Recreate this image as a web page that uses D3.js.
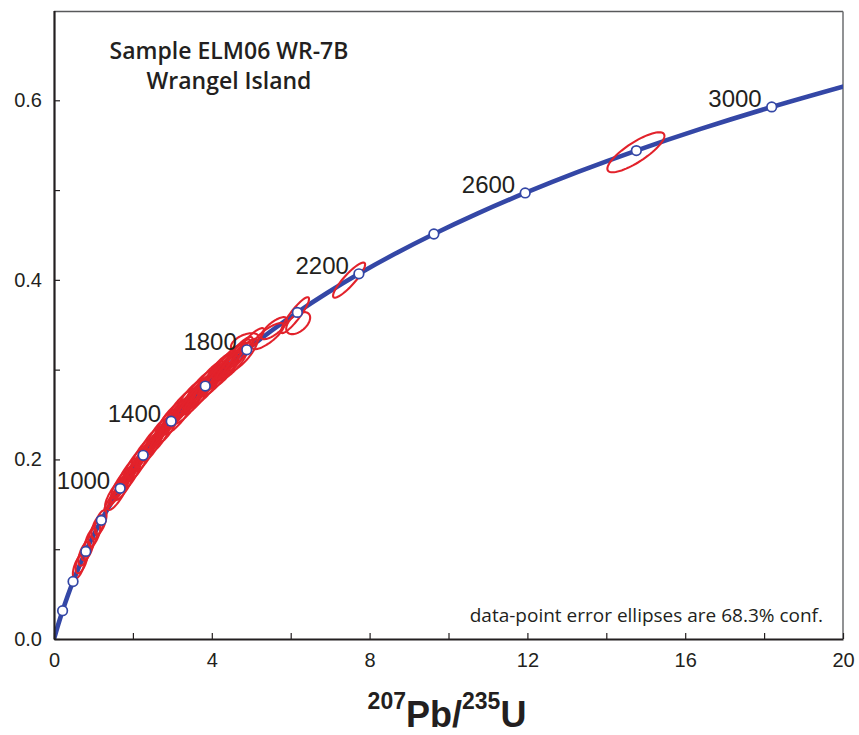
<!DOCTYPE html>
<html>
<head>
<meta charset="utf-8">
<script src="https://cdn.jsdelivr.net/npm/d3@7"></script>
<style>
  html, body { margin: 0; padding: 0; background: #fff; }
  svg { display: block; }
</style>
</head>
<body>
<svg id="chart" width="859" height="735"></svg>
<script>
// Concordia curve, tabulated every 100 Ma: age (Ma), 207Pb/235U, 206Pb/238U
const concAge = [0, 100, 200, 300, 400, 500, 600, 700, 800, 900, 1000, 1100, 1200, 1300, 1400, 1500,
                 1600, 1700, 1800, 1900, 2000, 2100, 2200, 2300, 2400, 2500, 2600, 2700, 2800, 2900, 3000, 3100];
const concX = [0, 0.1035, 0.2177, 0.3437, 0.4828, 0.6363, 0.8056, 0.9925, 1.1987, 1.4263, 1.6774, 1.9545,
               2.2603, 2.5977, 2.9701, 3.3810, 3.8345, 4.3347, 4.8869, 5.4962, 6.1685, 6.9105, 7.7292, 8.6326,
               9.6296, 10.7298, 11.9437, 13.2834, 14.7617, 16.3929, 18.1931, 20.1797];
const concY = [0, 0.01563, 0.03151, 0.04764, 0.06402, 0.08065, 0.09754, 0.11470, 0.13213, 0.14983, 0.16780,
               0.18606, 0.20460, 0.22343, 0.24256, 0.26199, 0.28172, 0.30175, 0.32211, 0.34277, 0.36377,
               0.38509, 0.40674, 0.42873, 0.45107, 0.47375, 0.49679, 0.52019, 0.54396, 0.56810, 0.59261, 0.61751];

// Age markers every 200 Ma; a subset carries labels
const markerAges = [200, 400, 600, 800, 1000, 1200, 1400, 1600, 1800, 2000, 2200, 2400, 2600, 2800, 3000];
const labelAges = [1000, 1400, 1800, 2200, 2600, 3000];

// Zircon analyses: 207Pb/235U, 206Pb/238U, 1-sigma absolute errors, error correlation
const ellX = [
  0.63, 0.70, 0.77, 0.85, 0.93, 1.02, 1.10, 1.18,
  1.55, 1.62, 1.70, 1.78, 1.86, 1.94, 2.03, 2.12, 2.21, 2.30, 2.40, 2.50, 2.60, 2.70, 2.80, 2.90,
  3.00, 3.12, 3.24, 3.36, 3.48, 3.60, 3.72, 3.84, 3.96, 4.08, 4.20, 4.32, 4.44, 4.56, 4.68, 4.80,
  1.90, 2.45, 3.10, 3.60, 4.15, 4.55,
  1.58, 1.74, 1.90, 2.06, 2.22, 2.38, 2.55, 2.72, 2.90,
  3.06, 3.22, 3.38, 3.54, 3.70, 3.86, 4.02, 4.18, 4.34, 4.50, 4.66,
  4.84, 5.02, 5.42, 5.58, 6.11, 6.19,
  7.48, 14.75];
const ellY = [
  0.0805, 0.0865, 0.0950, 0.1010, 0.1098, 0.1165, 0.1245, 0.1300,
  0.1630, 0.1605, 0.1735, 0.1712, 0.1845, 0.1815, 0.1950, 0.1925, 0.2060, 0.2035, 0.2170, 0.2148,
  0.2278, 0.2255, 0.2385, 0.2357,
  0.2485, 0.2460, 0.2605, 0.2575, 0.2712, 0.2680, 0.2815, 0.2785, 0.2915, 0.2885, 0.3010, 0.2980,
  0.3100, 0.3075, 0.3185, 0.3165,
  0.1830, 0.2155, 0.2500, 0.2720, 0.2960, 0.3110,
  0.1625, 0.1705, 0.1840, 0.1910, 0.2040, 0.2100, 0.2225, 0.2285, 0.2405,
  0.2455, 0.2560, 0.2605, 0.2705, 0.2745, 0.2843, 0.2880, 0.2972, 0.3005, 0.3095, 0.3125,
  0.3306, 0.3329, 0.3373, 0.3462, 0.3607, 0.3518,
  0.3997, 0.5421];
const ellSX = [
  0.10, 0.10, 0.10, 0.10, 0.10, 0.10, 0.10, 0.10,
  0.167, 0.167, 0.167, 0.167, 0.167, 0.167, 0.167, 0.167, 0.167, 0.167, 0.167, 0.167, 0.167, 0.167, 0.167, 0.167,
  0.234, 0.234, 0.234, 0.234, 0.234, 0.234, 0.234, 0.234, 0.234, 0.234, 0.234, 0.234, 0.234, 0.234, 0.234, 0.234,
  0.22, 0.26, 0.30, 0.32, 0.32, 0.28,
  0.20, 0.20, 0.20, 0.20, 0.20, 0.20, 0.20, 0.20, 0.20,
  0.26, 0.26, 0.26, 0.26, 0.26, 0.26, 0.26, 0.26, 0.26, 0.26, 0.26,
  0.234, 0.20, 0.268, 0.2175, 0.234, 0.20,
  0.268, 0.477];
const ellSY = [
  0.0088, 0.0088, 0.0088, 0.0088, 0.0088, 0.0088, 0.0088, 0.0088,
  0.011, 0.011, 0.011, 0.011, 0.011, 0.011, 0.011, 0.011, 0.011, 0.011, 0.011, 0.011, 0.011, 0.011, 0.011, 0.011,
  0.0118, 0.0118, 0.0118, 0.0118, 0.0118, 0.0118, 0.0118, 0.0118, 0.0118, 0.0118, 0.0118, 0.0118, 0.0118, 0.0118,
  0.0118, 0.0118,
  0.0135, 0.014, 0.015, 0.016, 0.016, 0.015,
  0.0125, 0.0125, 0.0125, 0.0125, 0.0125, 0.0125, 0.0125, 0.0125, 0.0125,
  0.0135, 0.0135, 0.0135, 0.0135, 0.0135, 0.0135, 0.0135, 0.0135, 0.0135, 0.0135, 0.0135,
  0.0066, 0.0088, 0.0096, 0.0081, 0.0132, 0.0081,
  0.0129, 0.0147];
const ellRho = [
  0.6, 0.6, 0.6, 0.6, 0.6, 0.6, 0.6, 0.6,
  0.85, 0.85, 0.85, 0.85, 0.85, 0.85, 0.85, 0.85, 0.85, 0.85, 0.85, 0.85, 0.85, 0.85, 0.85, 0.85,
  0.85, 0.85, 0.85, 0.85, 0.85, 0.85, 0.85, 0.85, 0.85, 0.85, 0.85, 0.85, 0.85, 0.85, 0.85, 0.85,
  0.93, 0.93, 0.92, 0.92, 0.92, 0.9,
  0.96, 0.96, 0.96, 0.96, 0.96, 0.96, 0.96, 0.96, 0.96,
  0.96, 0.96, 0.96, 0.96, 0.96, 0.96, 0.96, 0.96, 0.96, 0.96, 0.96,
  0.5, 0.85, 0.8, 0.75, 0.9, 0.5,
  0.89, 0.82];

const xTickValues = [0, 2, 4, 6, 8, 10, 12, 14, 16, 18, 20];
const yTickValues = [0, 0.1, 0.2, 0.3, 0.4, 0.5, 0.6];

(function () {
  const svg = d3.select("#chart");
  const mLeft = 54, mRight = 843, mTop = 10.5, mBottom = 639;

  const x = d3.scaleLinear().domain([0, 20]).range([mLeft, mRight]);
  const y = d3.scaleLinear().domain([0, 0.7]).range([mBottom, mTop]);

  const BLUE = "#3447a6";
  const RED = "#e2222b";
  const INK = "#231f20";

  svg.append("defs").append("clipPath").attr("id", "plotclip")
    .append("rect").attr("x", mLeft).attr("y", mTop).attr("width", mRight - mLeft).attr("height", mBottom - mTop);

  // frame: top and right edges in grey
  svg.append("line").attr("x1", mLeft).attr("x2", mRight).attr("y1", mTop + 1).attr("y2", mTop + 1)
    .attr("stroke", "#58595b").attr("stroke-width", 1.5);
  svg.append("line").attr("x1", mRight).attr("x2", mRight).attr("y1", mTop + 1).attr("y2", mBottom)
    .attr("stroke", "#6d6e71").attr("stroke-width", 1.5);

  const plot = svg.append("g").attr("clip-path", "url(#plotclip)");

  // concordia curve
  const concPts = concAge.map((a, i) => [concX[i], concY[i]]);
  plot.append("path")
    .attr("d", d3.line().x(d => x(d[0])).y(d => y(d[1])).curve(d3.curveCatmullRom)(concPts))
    .attr("fill", "none").attr("stroke", BLUE).attr("stroke-width", 4.6).attr("stroke-linecap", "round");

  // error ellipses (68.3% confidence)
  const k = Math.sqrt(-2 * Math.log(1 - 0.683));
  const ellipseLine = d3.line().x(d => x(d[0])).y(d => y(d[1])).curve(d3.curveLinearClosed);
  const ellData = ellX.map((cx, i) => {
    const sx = ellSX[i], sy = ellSY[i], r = ellRho[i];
    return d3.range(0, 72).map(j => {
      const t = j / 72 * 2 * Math.PI;
      return [cx + k * sx * Math.cos(t),
              ellY[i] + k * sy * (r * Math.cos(t) + Math.sqrt(1 - r * r) * Math.sin(t))];
    });
  });
  plot.append("g").selectAll("path").data(ellData).join("path")
    .attr("d", ellipseLine)
    .attr("fill", "none").attr("stroke", RED).attr("stroke-width", 2.1).attr("stroke-linejoin", "round");

  // age markers
  const markers = markerAges.map(a => { const i = concAge.indexOf(a); return { age: a, x: concX[i], y: concY[i] }; });
  svg.append("g").selectAll("circle").data(markers).join("circle")
    .attr("cx", d => x(d.x)).attr("cy", d => y(d.y)).attr("r", 4.8)
    .attr("fill", "#fff").attr("stroke", BLUE).attr("stroke-width", 1.7);

  svg.append("g").selectAll("text").data(markers.filter(d => labelAges.includes(d.age))).join("text")
    .attr("x", d => x(d.x) - 10).attr("y", d => y(d.y) + 0.5)
    .attr("text-anchor", "end")
    .attr("font-family", "'Liberation Sans', Arial, sans-serif").attr("font-size", 24)
    .attr("fill", INK)
    .text(d => d.age);

  // axes with inward ticks
  const xAxis = d3.axisBottom(x).tickValues(xTickValues).tickSize(-6).tickSizeOuter(0)
    .tickPadding(14).tickFormat(d => d % 4 === 0 ? d3.format("d")(d) : "");
  const gx = svg.append("g").attr("transform", `translate(0,${mBottom})`).call(xAxis);
  gx.select(".domain").attr("stroke", INK).attr("stroke-width", 2.2);
  gx.selectAll(".tick line").attr("stroke", INK).attr("stroke-width", 1.2);
  gx.selectAll(".tick text").attr("font-family", "'Liberation Sans', Arial, sans-serif")
    .attr("font-size", 20).attr("fill", INK);

  const yAxis = d3.axisLeft(y).tickValues(yTickValues).tickSize(-6).tickSizeOuter(0)
    .tickPadding(12).tickFormat(d => Math.round(d * 10) % 2 === 0 ? d3.format(".1f")(d) : "");
  const gy = svg.append("g").attr("transform", `translate(${mLeft},0)`).call(yAxis);
  gy.select(".domain").attr("stroke", INK).attr("stroke-width", 2.2);
  gy.selectAll(".tick line").attr("stroke", INK).attr("stroke-width", 1.2);
  gy.selectAll(".tick text").attr("font-family", "'Liberation Sans', Arial, sans-serif")
    .attr("font-size", 20).attr("fill", INK);

  // sample title
  const title = svg.append("text").attr("text-anchor", "middle")
    .attr("font-family", "'Open Sans', sans-serif").attr("font-weight", 600)
    .attr("font-size", 23).attr("fill", INK);
  title.append("tspan").attr("x", 229).attr("y", 59).text("Sample ELM06 WR-7B");
  title.append("tspan").attr("x", 229).attr("y", 89).text("Wrangel Island");

  // note
  svg.append("text").attr("x", 823).attr("y", 622).attr("text-anchor", "end")
    .attr("font-family", "'Open Sans', sans-serif").attr("font-size", 19).attr("fill", INK)
    .text("data-point error ellipses are 68.3% conf.");

  // x-axis title with isotope superscripts
  const xt = svg.append("text").attr("x", 447).attr("y", 727).attr("text-anchor", "middle")
    .attr("font-family", "'Liberation Sans', Arial, sans-serif").attr("font-weight", "bold")
    .attr("font-size", 36).attr("fill", INK);
  xt.append("tspan").attr("font-size", 23).attr("dy", -18).text("207");
  xt.append("tspan").attr("dy", 18).text("Pb/");
  xt.append("tspan").attr("font-size", 23).attr("dy", -18).text("235");
  xt.append("tspan").attr("dy", 18).text("U");
})();
</script>
</body>
</html>
